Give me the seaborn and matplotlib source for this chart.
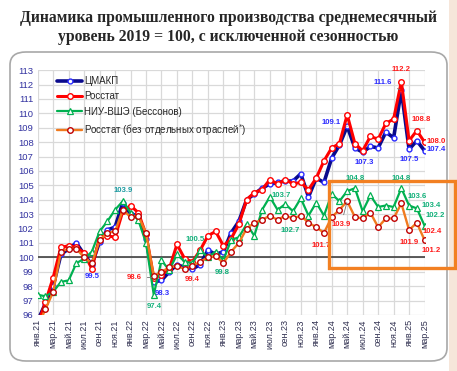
import matplotlib
matplotlib.use('Agg')
import matplotlib.pyplot as plt
import seaborn as sns
import pandas as pd
from matplotlib.patches import FancyBboxPatch, Rectangle

# months from Jan 2021 to Mar 2025
month_names = ['янв', 'фев', 'мар', 'апр', 'май', 'июн', 'июл', 'авг', 'сен', 'окт', 'ноя', 'дек']
periods = [f'{m}.{y}' for y in range(21, 26) for m in month_names][:51]

tsmakp = [95.6, 96.8, 98.0, 100.2, 100.6, 101.0, 100.2, 99.5, 101.1, 101.9, 102.1, 103.8, 103.0,
          102.9, 101.3, 98.3, 98.4, 99.0, 99.5, 99.3, 99.2, 99.5, 100.5, 100.2, 100.4, 101.7,
          102.5, 104.0, 104.4, 104.8, 105.1, 105.2, 105.3, 105.3, 105.8, 104.2, 105.5, 105.2,
          106.9, 107.8, 109.1, 107.6, 107.3, 107.7, 107.6, 108.7, 108.3, 111.6, 107.5, 108.1, 107.4]
rosstat = [95.3, 96.9, 98.6, 100.7, 100.8, 100.7, 100.3, 99.2, 101.4, 101.5, 101.4, 103.2, 103.6,
           103.1, 101.6, 98.6, 98.8, 99.2, 100.9, 99.9, 99.7, 100.5, 101.5, 101.8, 100.8, 101.3,
           102.3, 104.0, 104.5, 104.7, 105.4, 105.1, 105.4, 105.1, 105.2, 104.7, 105.5, 106.7,
           107.6, 107.9, 109.9, 107.9, 107.4, 108.4, 108.2, 109.3, 109.6, 112.2, 108.1, 108.8, 108.0]
hse = [97.4, 97.3, 97.6, 98.3, 98.4, 99.6, 99.9, 100.4, 101.8, 102.5, 103.3, 103.9, 103.1,
       102.6, 101.0, 97.4, 99.8, 99.1, 100.2, 99.7, 99.6, 100.5, 100.0, 100.4, 99.8, 101.2,
       101.4, 102.3, 101.5, 103.3, 104.2, 103.3, 103.7, 103.2, 104.1, 102.9, 103.8, 102.9,
       104.4, 103.9, 104.6, 104.8, 103.2, 104.3, 103.5, 103.6, 103.5, 104.8, 103.6, 103.4, 102.2]
rosstat_ex = [95.2, 96.4, 97.6, 100.4, 100.6, 100.6, 100.0, 99.6, 101.2, 101.7, 101.8, 103.3, 102.8,
              102.9, 101.7, 98.7, 99.0, 99.3, 99.4, 99.2, 99.4, 99.7, 100.0, 100.1, 99.6, 100.4,
              101.0, 102.0, 102.4, 102.6, 102.9, 102.6, 102.9, 102.7, 102.9, 102.4, 102.1, 101.7,
              102.8, 103.3, 103.9, 102.8, 102.7, 103.1, 102.1, 102.7, 102.7, 103.75, 101.9, 102.4, 101.2]

df = pd.DataFrame({'i': range(len(periods)), 'ЦМАКП': tsmakp, 'Росстат': rosstat,
                   'НИУ-ВШЭ (Бессонов)': hse, 'Росстат (без отдельных отраслей)': rosstat_ex})

sns.set_style('white')
plt.rcParams['font.family'] = ['Liberation Sans', 'DejaVu Sans']

fig = plt.figure(figsize=(4.57, 3.71), dpi=100)
fig.patch.set_facecolor('white')
ax = fig.add_axes([0.0825, 0.151, 0.8465, 0.66])

# background panel + right strip
fig.add_artist(Rectangle((449 / 457, 0), 8 / 457, 1, transform=fig.transFigure,
                         facecolor='#F6E6DA', edgecolor='none', zorder=-5))
fig.add_artist(FancyBboxPatch((10 / 457, 1 - 361 / 371), 437 / 457, 309 / 371,
                              boxstyle='round,pad=0,rounding_size=0.035', transform=fig.transFigure,
                              facecolor='white', edgecolor='#A8A8A8', lw=1.2, zorder=-4))

sns.lineplot(data=df, x='i', y='ЦМАКП', ax=ax, color='#0A0A8C', lw=2.6, marker='o', ms=3.5,
             mfc='white', mec='#2B2BFF', mew=1.0, label='ЦМАКП', zorder=3)
sns.lineplot(data=df, x='i', y='Росстат', ax=ax, color='#FF0000', lw=2.2, marker='o', ms=4,
             mfc='white', mec='#FF0000', mew=1.0, label='Росстат', zorder=4)
sns.lineplot(data=df, x='i', y='НИУ-ВШЭ (Бессонов)', ax=ax, color='#00B050', lw=1.6, marker='^', ms=4,
             mfc='white', mec='#00B050', mew=0.9, label='НИУ-ВШЭ (Бессонов)', zorder=5)
sns.lineplot(data=df, x='i', y='Росстат (без отдельных отраслей)', ax=ax, color='#F07A1E', lw=1.7,
             marker='o', ms=4, mfc='white', mec='#C00000', mew=1.0,
             label='Росстат (без отдельных отраслей$^{*}$)', zorder=6)

ax.axhline(100, color='#404040', lw=1.2, zorder=2)

ax.set_xlim(0, 50)
ax.set_ylim(96, 113)
ax.set_xticks(range(0, 51, 2))
ax.set_xticklabels(periods[::2], rotation=90, fontsize=6.5, color='#2F2F4F')
ax.set_yticks(range(96, 114))
ax.set_yticklabels([str(v) for v in range(96, 114)], fontsize=6.8, color='#3333A0')
ax.tick_params(length=0, pad=3)
ax.grid(True, color='#D9D9D9', lw=0.9)
ax.set_axisbelow(True)
for s in ax.spines.values():
    s.set_visible(False)
ax.set_xlabel('')
ax.set_ylabel('')

leg = ax.legend(loc='upper left', bbox_to_anchor=(0.035, 1.0), frameon=False, fontsize=7,
                handlelength=2.6, handletextpad=0.2, labelspacing=0.55, borderaxespad=0.2)

# data labels: (text, series, month index, dx px, dy px, color, leader)
blue, red, green = '#2B2BFF', '#FF1A1A', '#12B07A'
labels = [
    ('103.9', hse, 11, 0, 11, '#1A9AA0', False),
    ('99.5', tsmakp, 7, 0, -12, blue, False),
    ('98.6', rosstat, 15, -20, 0, red, True),
    ('98.3', tsmakp, 15, 9, -12, blue, False),
    ('97.4', hse, 15, 0, -12, green, False),
    ('99.4', rosstat_ex, 20, 0, -13, red, False),
    ('100.5', hse, 21, -5, 11, green, False),
    ('99.8', hse, 24, -1, -12, green, False),
    ('103.7', hse, 32, -4, 9, green, False),
    ('102.7', rosstat_ex, 33, -3, -12, green, False),
    ('101.7', rosstat_ex, 37, -3, -13, red, False),
    ('109.1', tsmakp, 40, -16, 4, blue, True),
    ('107.3', tsmakp, 42, 2, -10, blue, False),
    ('104.8', hse, 41, 0, 10, green, False),
    ('104.8', hse, 47, 0, 10, green, False),
    ('103.9', rosstat_ex, 40, -6, -23, red, True),
    ('111.6', tsmakp, 47, -19, 8, blue, True),
    ('112.2', rosstat, 47, 0, 12, red, False),
    ('108.8', rosstat, 49, 4, 11, red, True),
    ('107.5', tsmakp, 48, 0, -10, blue, False),
    ('108.0', rosstat, 50, 12, 1, red, False),
    ('107.4', tsmakp, 50, 12, 1, blue, False),
    ('103.6', hse, 48, 8, 9, green, False),
    ('103.4', hse, 49, 14, 3, green, False),
    ('102.2', hse, 50, 11, 10, green, False),
    ('101.9', rosstat_ex, 48, 0, -13, red, False),
    ('102.4', rosstat_ex, 49, 15, -9, red, False),
    ('101.2', rosstat_ex, 50, 7, -10, red, False),
]
for txt, series, i, dx, dy, col, leader in labels:
    ax.annotate(txt, xy=(i, series[i]), xytext=(dx, dy), textcoords='offset pixels',
                ha='center', va='center', fontsize=5.6, fontweight='bold', color=col,
                family=['Liberation Sans Narrow', 'Liberation Sans', 'DejaVu Sans'],
                annotation_clip=False, zorder=8,
                arrowprops=dict(arrowstyle='-', color='#707070', lw=0.6, shrinkA=2, shrinkB=1) if leader else None)

# highlight box
fig.add_artist(Rectangle((329 / 457, 1 - 268 / 371), 126 / 457, 87 / 371, transform=fig.transFigure,
                         facecolor='none', edgecolor='#F28022', lw=2.4, zorder=10))

fig.text(0.5, 1 - 18 / 371, 'Динамика промышленного производства среднемесячный',
         ha='center', va='center', fontsize=11.3, fontweight='bold', family='Liberation Serif')
fig.text(0.5, 1 - 37 / 371, 'уровень 2019 = 100, с исключенной сезонностью',
         ha='center', va='center', fontsize=11.3, fontweight='bold', family='Liberation Serif')

fig.savefig('out.png', dpi=100)
